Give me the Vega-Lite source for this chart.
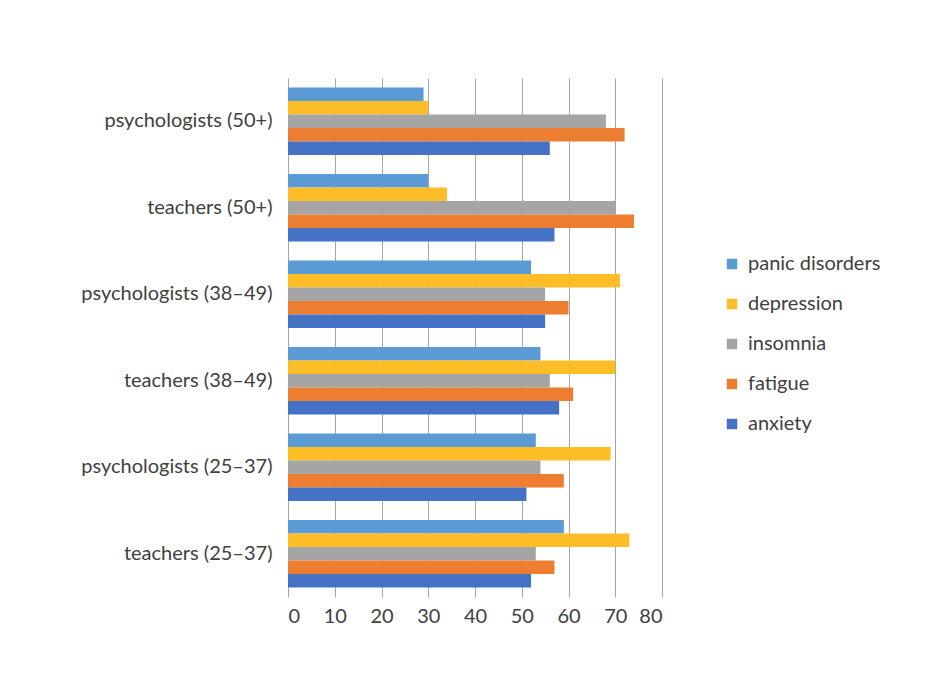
{
  "$schema": "https://vega.github.io/schema/vega-lite/v6.json",
  "autosize": {"type": "none"},
  "width": 374,
  "height": 519,
  "padding": {"left": 288, "top": 78, "right": 282, "bottom": 79},
  "background": "white",
  "config": {
    "font": "Lato",
    "view": {"stroke": null}
  },
  "data": {
    "values": [
      {"group": "psychologists (50+)", "symptom": "panic disorders", "value": 29},
      {"group": "psychologists (50+)", "symptom": "depression", "value": 30},
      {"group": "psychologists (50+)", "symptom": "insomnia", "value": 68},
      {"group": "psychologists (50+)", "symptom": "fatigue", "value": 72},
      {"group": "psychologists (50+)", "symptom": "anxiety", "value": 56},
      {"group": "teachers (50+)", "symptom": "panic disorders", "value": 30},
      {"group": "teachers (50+)", "symptom": "depression", "value": 34},
      {"group": "teachers (50+)", "symptom": "insomnia", "value": 70},
      {"group": "teachers (50+)", "symptom": "fatigue", "value": 74},
      {"group": "teachers (50+)", "symptom": "anxiety", "value": 57},
      {"group": "psychologists (38–49)", "symptom": "panic disorders", "value": 52},
      {"group": "psychologists (38–49)", "symptom": "depression", "value": 71},
      {"group": "psychologists (38–49)", "symptom": "insomnia", "value": 55},
      {"group": "psychologists (38–49)", "symptom": "fatigue", "value": 60},
      {"group": "psychologists (38–49)", "symptom": "anxiety", "value": 55},
      {"group": "teachers (38–49)", "symptom": "panic disorders", "value": 54},
      {"group": "teachers (38–49)", "symptom": "depression", "value": 70},
      {"group": "teachers (38–49)", "symptom": "insomnia", "value": 56},
      {"group": "teachers (38–49)", "symptom": "fatigue", "value": 61},
      {"group": "teachers (38–49)", "symptom": "anxiety", "value": 58},
      {"group": "psychologists (25–37)", "symptom": "panic disorders", "value": 53},
      {"group": "psychologists (25–37)", "symptom": "depression", "value": 69},
      {"group": "psychologists (25–37)", "symptom": "insomnia", "value": 54},
      {"group": "psychologists (25–37)", "symptom": "fatigue", "value": 59},
      {"group": "psychologists (25–37)", "symptom": "anxiety", "value": 51},
      {"group": "teachers (25–37)", "symptom": "panic disorders", "value": 59},
      {"group": "teachers (25–37)", "symptom": "depression", "value": 73},
      {"group": "teachers (25–37)", "symptom": "insomnia", "value": 53},
      {"group": "teachers (25–37)", "symptom": "fatigue", "value": 57},
      {"group": "teachers (25–37)", "symptom": "anxiety", "value": 52}
    ]
  },
  "mark": {"type": "bar"},
  "encoding": {
    "y": {
      "field": "group",
      "type": "nominal",
      "sort": ["psychologists (50+)", "teachers (50+)", "psychologists (38–49)", "teachers (38–49)", "psychologists (25–37)", "teachers (25–37)"],
      "scale": {"paddingInner": 0.22, "paddingOuter": 0.11},
      "axis": {
        "title": null,
        "domain": false,
        "ticks": false,
        "labelPadding": 16,
        "labelFontSize": 20,
        "labelLimit": 300,
        "labelColor": "#404040",
        "labelFont": "Lato"
      }
    },
    "yOffset": {
      "field": "symptom",
      "type": "nominal",
      "sort": ["panic disorders", "depression", "insomnia", "fatigue", "anxiety"],
      "scale": {"paddingInner": 0, "paddingOuter": 0}
    },
    "x": {
      "field": "value",
      "type": "quantitative",
      "scale": {"domain": [0, 80], "nice": false},
      "axis": {
        "title": null,
        "values": [0, 10, 20, 30, 40, 50, 60, 70, 80],
        "domain": false,
        "ticks": false,
        "grid": true,
        "gridColor": "#a6a6a6",
        "gridWidth": 1,
        "labelPadding": 9,
        "labelFontSize": 20,
        "labelColor": "#404040",
        "labelFont": "Lato"
      }
    },
    "color": {
      "field": "symptom",
      "type": "nominal",
      "sort": ["panic disorders", "depression", "insomnia", "fatigue", "anxiety"],
      "scale": {
        "domain": ["panic disorders", "depression", "insomnia", "fatigue", "anxiety"],
        "range": ["#5b9bd5", "#fdbd26", "#a5a5a5", "#ed7d31", "#4472c4"]
      },
      "legend": {
        "title": null,
        "orient": "none",
        "legendX": 434,
        "legendY": 176,
        "symbolType": "square",
        "symbolSize": 110,
        "symbolStrokeWidth": 0,
        "labelFontSize": 20,
        "labelLimit": 300,
        "labelColor": "#404040",
        "labelFont": "Lato",
        "labelOffset": 6,
        "rowPadding": 20
      }
    }
  }
}
